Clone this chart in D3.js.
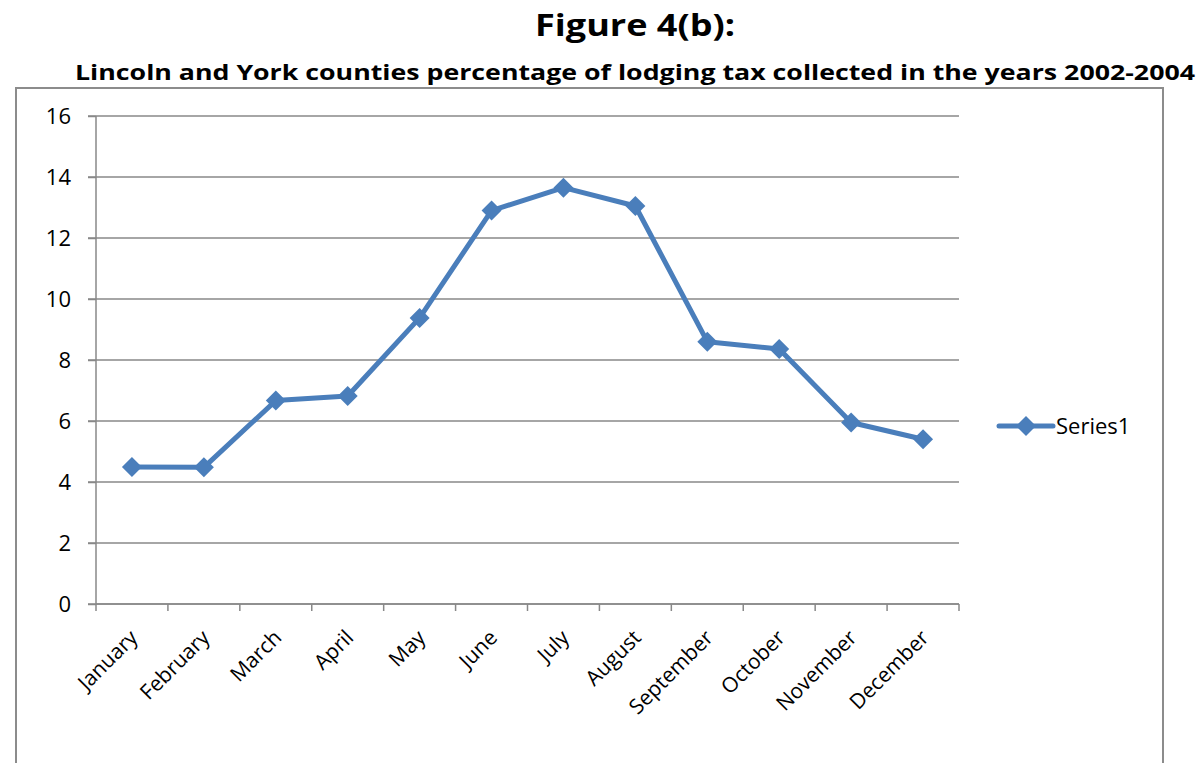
<!DOCTYPE html>
<html>
<head>
<meta charset="utf-8">
<script src="https://cdn.jsdelivr.net/npm/d3@7"></script>
<style>
  body { margin: 0; background: white; }
  text { font-family: "Open Sans", "DejaVu Sans", sans-serif; }
</style>
</head>
<body>
<svg id="chart" width="1201" height="763"></svg>
<script>
var months = ["January", "February", "March", "April", "May", "June", "July",
    "August", "September", "October", "November", "December"];
var values = [4.49, 4.48, 6.67, 6.82, 9.38, 12.9, 13.65, 13.05, 8.6, 8.36, 5.95, 5.4];
var yTicks = [0, 2, 4, 6, 8, 10, 12, 14, 16];
var seriesName = "Series1";

var blue = "#4a7ebb";
var grey = "#888888";

var svg = d3.select("#chart");

// outer chart frame
svg.append("rect")
    .attr("x", 16).attr("y", 88)
    .attr("width", 1147).attr("height", 700)
    .attr("fill", "white")
    .attr("stroke", "#8c8c8c")
    .attr("stroke-width", 2);

svg.append("text")
    .attr("x", 635).attr("y", 36)
    .attr("text-anchor", "middle")
    .style("font-size", "31px")
    .style("font-weight", "bold")
    .attr("textLength", 200)
    .attr("lengthAdjust", "spacingAndGlyphs")
    .text("Figure 4(b):");

svg.append("text")
    .attr("x", 635).attr("y", 80)
    .attr("text-anchor", "middle")
    .style("font-size", "22px")
    .style("font-weight", "bold")
    .attr("textLength", 1120)
    .attr("lengthAdjust", "spacingAndGlyphs")
    .text("Lincoln and York counties percentage of lodging tax collected in the years 2002-2004");

var x = d3.scaleBand().domain(months).range([96, 959]);
var y = d3.scaleLinear().domain([0, 16]).range([604, 116]);

// gridlines
svg.append("g")
    .selectAll("line")
    .data(yTicks)
    .enter().append("line")
    .attr("x1", 88).attr("x2", 959)
    .attr("y1", d => y(d)).attr("y2", d => y(d))
    .attr("stroke", grey)
    .attr("stroke-width", 1.5);

// y axis
var yAxis = svg.append("g")
    .attr("transform", "translate(96,0)")
    .call(d3.axisLeft(y).tickValues(yTicks).tickSize(8).tickPadding(17));
yAxis.selectAll("line, path").attr("stroke", grey).attr("stroke-width", 1.5);
yAxis.select(".domain").attr("d", "M0," + y(16) + "V" + y(0));
yAxis.selectAll("text")
    .style("font-size", "22px")
    .attr("fill", "black");

// x axis with ticks at category boundaries
var xAxis = svg.append("g").attr("transform", "translate(0," + y(0) + ")");
xAxis.append("line")
    .attr("x1", 96).attr("x2", 959)
    .attr("stroke", grey).attr("stroke-width", 1.5);
xAxis.selectAll("line.tick")
    .data(months.concat(["end"]))
    .enter().append("line")
    .attr("class", "tick")
    .attr("x1", (d, i) => 96 + i * x.bandwidth())
    .attr("x2", (d, i) => 96 + i * x.bandwidth())
    .attr("y1", 0).attr("y2", 7)
    .attr("stroke", grey).attr("stroke-width", 1.5);
xAxis.selectAll("text")
    .data(months)
    .enter().append("text")
    .attr("transform", d => "translate(" + (x(d) + x.bandwidth() / 2 + 7) + ",35) rotate(-45)")
    .attr("text-anchor", "end")
    .style("font-size", "21px")
    .text(d => d);

// series line
var line = d3.line()
    .x((d, i) => x(months[i]) + x.bandwidth() / 2)
    .y(d => y(d));

svg.append("path")
    .datum(values)
    .attr("fill", "none")
    .attr("stroke", blue)
    .attr("stroke-width", 5)
    .attr("stroke-linejoin", "round")
    .attr("d", line);

var diamond = d3.symbol().type(d3.symbolSquare).size(200);
svg.append("g")
    .selectAll("path")
    .data(values)
    .enter().append("path")
    .attr("d", diamond)
    .attr("transform", (d, i) => "translate(" + (x(months[i]) + x.bandwidth() / 2) + "," + y(d) + ") rotate(45)")
    .attr("fill", blue);

// legend
var legend = svg.append("g").attr("transform", "translate(999,426)");
legend.append("line")
    .attr("x1", 0).attr("x2", 54)
    .attr("stroke", blue).attr("stroke-width", 5)
    .attr("stroke-linecap", "round");
legend.append("path")
    .attr("d", diamond)
    .attr("transform", "translate(27,0) rotate(45)")
    .attr("fill", blue);
legend.append("text")
    .attr("x", 57).attr("y", 0)
    .attr("dy", "0.35em")
    .style("font-size", "22px")
    .text(seriesName);
</script>
</body>
</html>
